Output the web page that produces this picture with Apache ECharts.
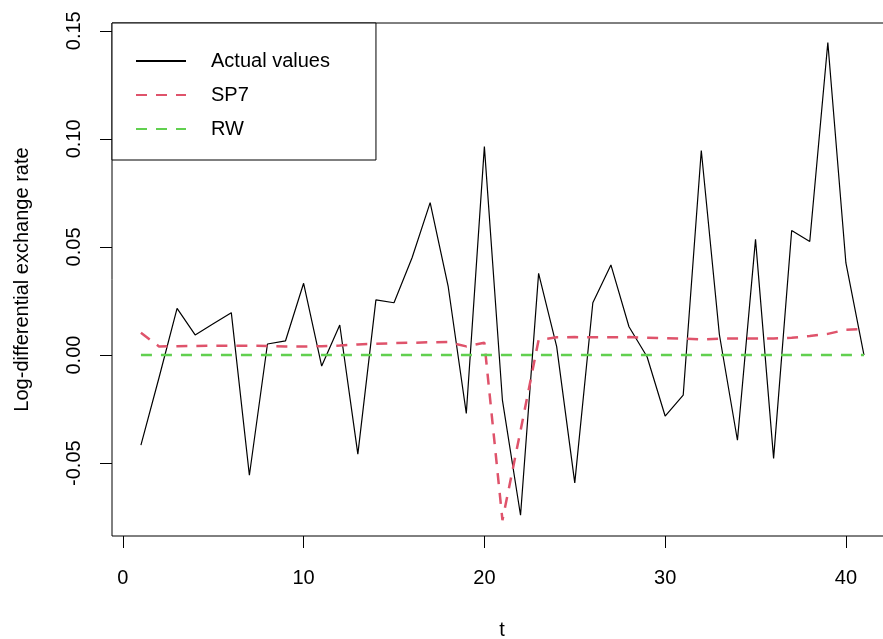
<!DOCTYPE html>
<html>
<head>
<meta charset="utf-8">
<script src="https://cdn.jsdelivr.net/npm/echarts@6/dist/echarts.min.js"></script>
<style>
    html, body { margin: 0; padding: 0; background: #fff; }
    #chart { width: 883px; height: 639px; }
</style>
</head>
<body>
<div id="chart"></div>
<script>
var tValues = [1, 2, 3, 4, 5, 6, 7, 8, 9, 10, 11, 12, 13, 14, 15, 16, 17, 18, 19, 20,
    21, 22, 23, 24, 25, 26, 27, 28, 29, 30, 31, 32, 33, 34, 35, 36, 37, 38, 39, 40, 41];
// 实际值
var actualValues = [-0.0417, -0.0105, 0.0216, 0.0093, 0.0145, 0.0196, -0.0556, 0.0051, 0.0066, 0.0332,
    -0.0051, 0.0139, -0.0458, 0.0255, 0.0242, 0.0450, 0.0705, 0.0316, -0.0270, 0.0964,
    -0.0210, -0.0741, 0.0378, 0.0039, -0.0591, 0.0242, 0.0417, 0.0131, -0.0008, -0.0282,
    -0.0185, 0.0946, 0.0095, -0.0394, 0.0535, -0.0478, 0.0576, 0.0525, 0.1446, 0.0426, 0.0000];
// SP7 预测
var sp7Values = [0.0103, 0.0040, 0.0041, 0.0042, 0.0043, 0.0043, 0.0043, 0.0042, 0.0040, 0.0039,
    0.0041, 0.0044, 0.0049, 0.0052, 0.0055, 0.0057, 0.0059, 0.0060, 0.0040, 0.0057,
    -0.0764, -0.0350, 0.0070, 0.0082, 0.0083, 0.0082, 0.0082, 0.0083, 0.0080, 0.0078,
    0.0076, 0.0072, 0.0076, 0.0077, 0.0077, 0.0077, 0.0080, 0.0088, 0.0098, 0.0117, 0.0120];
// RW 预测
var rwValues = [0, 0, 0, 0, 0, 0, 0, 0, 0, 0, 0, 0, 0, 0, 0, 0, 0, 0, 0, 0,
    0, 0, 0, 0, 0, 0, 0, 0, 0, 0, 0, 0, 0, 0, 0, 0, 0, 0, 0, 0, 0];
var xTicks = [0, 10, 20, 30, 40];
var yTicks = [-0.05, 0, 0.05, 0.10, 0.15];

var fontName = 'Liberation Sans';

function pairs(values) {
    return tValues.map(function (t, i) {
        return [t, values[i]];
    });
}

var myChart = echarts.init(document.getElementById('chart'));
var option = {
    backgroundColor: '#fff',
    animation: false,
    textStyle: { fontFamily: fontName },
    grid: {
        left: 112,
        top: 23,
        width: 780,
        height: 513,
        outerBoundsMode: 'none',
        containLabel: false,
        show: true,
        borderColor: '#000',
        borderWidth: 1,
        backgroundColor: 'transparent'
    },
    legend: {
        orient: 'vertical',
        left: 112,
        top: 23,
        padding: [28, 46, 21, 23],
        itemWidth: 50,
        itemHeight: 14,
        itemGap: 14,
        borderColor: '#000',
        borderWidth: 1,
        backgroundColor: '#fff',
        itemStyle: { color: 'transparent', borderWidth: 0 },
        textStyle: {
            color: '#000',
            fontSize: 20,
            fontFamily: fontName,
            padding: [0, 0, 0, 20]
        },
        data: ['Actual values', 'SP7', 'RW']
    },
    xAxis: {
        type: 'value',
        min: -0.6,
        max: 42.55,
        name: 't',
        nameLocation: 'middle',
        nameGap: 84,
        nameTextStyle: { color: '#000', fontSize: 20, fontFamily: fontName },
        axisLine: { show: false, onZero: false },
        axisTick: {
            show: true,
            length: 12,
            customValues: xTicks,
            lineStyle: { color: '#000' }
        },
        axisLabel: {
            color: '#000',
            fontSize: 20,
            margin: 32,
            customValues: xTicks
        },
        splitLine: { show: false }
    },
    yAxis: {
        type: 'value',
        min: -0.0837,
        max: 0.1536,
        name: 'Log-differential exchange rate',
        nameLocation: 'middle',
        nameGap: 80,
        nameTextStyle: { color: '#000', fontSize: 20, fontFamily: fontName },
        axisLine: { show: false, onZero: false },
        axisTick: {
            show: true,
            length: 12,
            customValues: yTicks,
            lineStyle: { color: '#000' }
        },
        axisLabel: {
            color: '#000',
            fontSize: 20,
            margin: 28,
            rotate: 90,
            customValues: yTicks,
            formatter: function (v) {
                return v.toFixed(2);
            }
        },
        splitLine: { show: false }
    },
    series: [
        {
            name: 'Actual values',
            type: 'line',
            symbol: 'none',
            color: '#000',
            lineStyle: { color: '#000', width: 1.2 },
            data: pairs(actualValues)
        },
        {
            name: 'SP7',
            type: 'line',
            symbol: 'none',
            color: '#DF536B',
            lineStyle: { color: '#DF536B', width: 2.5, type: [11, 9] },
            data: pairs(sp7Values)
        },
        {
            name: 'RW',
            type: 'line',
            symbol: 'none',
            color: '#61D04F',
            lineStyle: { color: '#61D04F', width: 2.5, type: [11, 9] },
            data: pairs(rwValues)
        }
    ]
};
myChart.setOption(option);
</script>
</body>
</html>
